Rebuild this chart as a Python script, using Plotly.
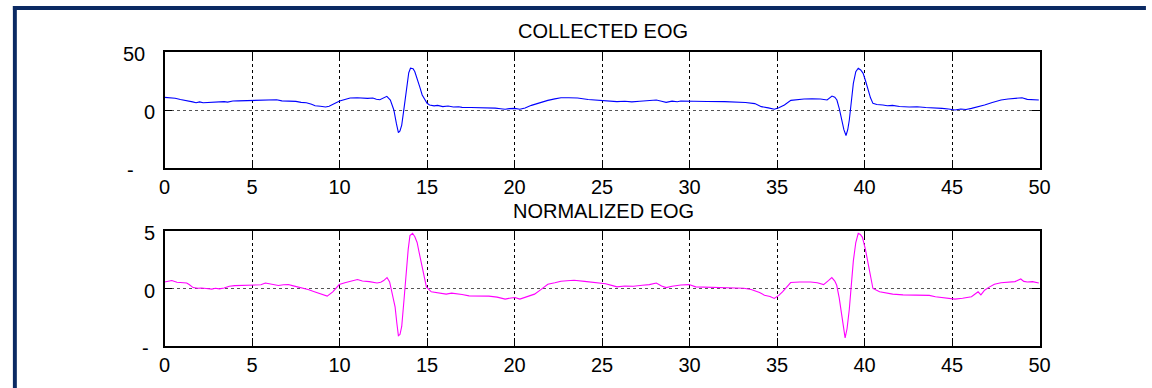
import plotly.graph_objects as go

# ---------------- data ----------------
collected_t = [0.0, 0.3, 0.6, 0.9, 1.1, 1.4, 1.6, 1.8, 2.0, 2.2, 2.5, 2.8, 3.1, 3.4, 3.6, 3.9, 4.2, 4.5, 4.9,
               5.2, 5.5, 5.8, 6.1, 6.4, 6.7, 6.9, 7.2, 7.5, 7.8, 8.1, 8.4, 8.6, 8.9, 9.2, 9.4, 9.6, 9.8, 10.0,
               10.3, 10.6, 11.0, 11.3, 11.6, 11.9, 12.1, 12.3, 12.5, 12.7, 12.9, 13.1, 13.25, 13.36, 13.45,
               13.55, 13.65, 13.75, 13.85, 13.95, 14.05, 14.2, 14.3, 14.45, 14.58, 14.72, 14.86, 15.0, 15.14,
               15.4, 15.6, 15.9, 16.2, 16.5, 16.8, 17.0, 17.5, 18.0, 18.5, 18.9, 19.2, 19.46, 19.7, 20.0, 20.3,
               20.6, 20.96, 21.3, 21.6, 21.9, 22.3, 22.65, 23.1, 23.6, 24.2, 24.9, 25.3, 25.6, 25.85, 26.3,
               26.7, 27.16, 27.6, 28.1, 28.4, 28.66, 29.0, 29.3, 29.5, 29.79, 30.16, 31.0, 32.0, 32.79, 33.2,
               33.73, 34.1, 34.5, 34.85, 35.1, 35.42, 35.79, 36.1, 36.54, 37.0, 37.48, 37.86, 38.0, 38.14,
               38.3, 38.42, 38.56, 38.7, 38.82, 38.94, 39.04, 39.13, 39.25, 39.36, 39.5, 39.64, 39.78, 39.92,
               40.06, 40.2, 40.34, 40.48, 40.7, 41.05, 41.3, 41.6, 42.0, 42.55, 43.0, 43.5, 44.0, 44.43, 44.8,
               45.17, 45.5, 45.8, 46.11, 46.5, 46.86, 47.3, 47.8, 48.2, 48.74, 49.0, 49.3, 49.96]
collected_v = [10.9, 10.8, 10.2, 9.0, 8.6, 8.0, 7.0, 6.3, 7.0, 6.2, 6.5, 6.4, 6.6, 7.2, 6.8, 7.7, 7.9, 8.0, 8.3,
               8.0, 8.4, 8.6, 8.2, 8.8, 7.9, 7.7, 8.0, 7.4, 6.6, 6.2, 5.0, 3.7, 3.2, 2.6, 3.3, 4.9, 6.5, 7.7,
               9.0, 10.3, 10.5, 10.2, 10.0, 10.4, 9.3, 8.9, 10.2, 11.8, 8.6, 0.0, -12.0, -19.5, -18.0,
               -13.0, -2.0, 8.6, 22.0, 32.0, 36.0, 35.5, 33.0, 27.0, 20.0, 13.0, 9.2, 5.8, 4.3,
               3.6, 4.0, 2.9, 3.4, 2.6, 2.8, 2.3, 2.2, 2.1, 2.0, 1.6, 1.1, 0.6, 1.2, 1.4, 0.6,
               1.8, 4.0, 5.8, 7.3, 8.3, 9.6, 10.6, 10.5, 10.3, 9.0, 8.3, 8.2, 7.3, 7.2, 7.6,
               7.0, 7.5, 7.8, 8.6, 7.5, 6.6, 7.6, 7.1, 7.8, 7.7, 7.2, 7.3, 7.2, 6.9, 6.5,
               5.5, 2.9, 1.8, 0.6, 2.0, 4.3, 8.3, 9.0, 9.5, 9.6, 9.5, 8.6, 10.5, 12.0,
               11.0, 8.6, 1.0, -8.6, -17.0, -22.0, -17.0, -8.6, 8.0, 23.0, 33.0, 36.0, 34.5, 31.6,
               25.0, 17.2, 10.5, 5.7, 4.8, 4.3, 3.6, 4.0, 3.0, 2.6, 2.8, 2.1, 1.9, 1.4, 0.9,
               0.0, 0.9, 0.4, 1.4, 2.6, 4.3, 6.5, 8.6, 9.5, 10.6, 10.5, 9.2, 8.6]

normalized_t = [0.0, 0.2, 0.41, 0.7, 1.0, 1.26, 1.4, 1.63, 1.9, 2.1, 2.38, 2.7, 2.9, 3.13, 3.4, 3.7, 4.0, 4.4,
                4.94, 5.3, 5.5, 5.76, 6.1, 6.5, 6.8, 7.07, 7.3, 7.64, 7.9, 8.2, 8.6, 9.0, 9.29, 9.61, 9.98,
                10.3, 10.64, 11.02, 11.3, 11.7, 12.14, 12.35, 12.52, 12.71, 12.86, 12.93, 13.05, 13.17, 13.27,
                13.36, 13.45, 13.55, 13.68, 13.8, 13.92, 14.02, 14.17, 14.3, 14.43, 14.55, 14.68, 14.82,
                14.96, 15.24, 15.6, 16.09, 16.4, 16.65, 17.0, 17.4, 18.0, 18.53, 19.0, 19.46, 19.8, 20.02,
                20.3, 20.7, 21.14, 21.5, 21.9, 22.3, 22.65, 23.0, 23.4, 24.0, 24.7, 25.2, 25.6, 25.85, 26.3,
                26.79, 27.3, 27.7, 28.1, 28.4, 28.66, 29.0, 29.5, 29.97, 30.35, 31.0, 32.0, 32.77, 33.1,
                33.52, 34.0, 34.28, 34.6, 34.84, 35.1, 35.31, 35.55, 35.78, 36.3, 36.91, 37.3, 37.66, 37.95,
                38.13, 38.3, 38.41, 38.55, 38.66, 38.78, 38.89, 39.0, 39.13, 39.25, 39.36, 39.5, 39.64, 39.76,
                39.88, 40.05, 40.2, 40.34, 40.48, 40.86, 41.2, 41.61, 42.2, 42.8, 43.3, 43.7, 44.05, 44.5,
                44.8, 45.17, 45.6, 46.11, 46.3, 46.49, 46.65, 46.86, 47.1, 47.42, 47.8, 48.18, 48.6, 48.93,
                49.1, 49.3, 49.6, 49.96]
normalized_v = [0.57, 0.6, 0.69, 0.55, 0.5, 0.48, 0.35, 0.08, 0.02, 0.04, 0.0, -0.05, 0.02, -0.03, 0.05, 0.2,
                0.25, 0.27, 0.28, 0.35, 0.32, 0.48, 0.38, 0.26, 0.32, 0.34, 0.25, 0.14, 0.05, -0.09, -0.3,
                -0.5, -0.66, -0.29, 0.34, 0.5, 0.63, 0.78, 0.65, 0.6, 0.48, 0.55, 0.69, 0.95, 0.57, 0.14,
                -0.6, -1.59, -3.0, -4.1, -4.0, -3.3, -1.0, 1.58, 3.4, 4.6, 4.8, 4.5, 4.0, 3.1, 2.15, 1.1,
                0.14, -0.29, -0.38, -0.49, -0.40, -0.43, -0.52, -0.64, -0.64, -0.66, -0.75, -0.92, -0.82,
                -0.78, -0.92, -0.72, -0.49, -0.1, 0.37, 0.5, 0.63, 0.68, 0.72, 0.62, 0.52, 0.42, 0.25, 0.14,
                0.22, 0.2, 0.28, 0.34, 0.48, 0.22, 0.08, 0.2, 0.3, 0.34, 0.14, 0.12, 0.1, 0.08, 0.02, -0.09,
                -0.35, -0.58, -0.7, -0.86, -0.6, -0.29, 0.15, 0.52, 0.56, 0.57, 0.5, 0.34, 0.7, 0.95, 0.65,
                0.28, -0.8, -1.87, -3.3, -4.3, -3.5, -1.8, 0.4, 2.4, 4.0, 4.8, 4.7, 4.45, 3.4, 2.15, 1.0,
                0.0, -0.29, -0.4, -0.49, -0.55, -0.55, -0.58, -0.6, -0.72, -0.8, -0.82, -0.92, -0.85, -0.72,
                -0.5, -0.29, -0.55, -0.15, 0.1, 0.37, 0.5, 0.57, 0.6, 0.83, 0.62, 0.57, 0.6, 0.48]

titles = ["COLLECTED EOG", "NORMALIZED EOG"]
x_tick_vals = [0, 5, 10, 15, 20, 25, 30, 35, 40, 45, 50]
x_tick_text = ["0", "5", "10", "15", "20", "25", "30", "35", "40", "45", "50"]
top_y_tick_vals = [50, 0, -50]
top_y_tick_text = ["50", "0", "-"]
bottom_y_tick_vals = [5, 0, -5]
bottom_y_tick_text = ["5", "0", "-"]

# ---------------- layout geometry (pixels) ----------------
W, H = 1152, 388
FONT = "Liberation Sans, Arial, sans-serif"


def px_x(p):
    return p / W


def px_y(p):
    return 1 - p / H


fig = go.Figure()
fig.add_trace(go.Scatter(x=collected_t, y=collected_v, mode="lines",
                         line=dict(color="#0000ff", width=1.1), xaxis="x", yaxis="y", showlegend=False))
fig.add_trace(go.Scatter(x=normalized_t, y=normalized_v, mode="lines",
                         line=dict(color="#ff00ff", width=1.1), xaxis="x2", yaxis="y2", showlegend=False))

xaxis_common = dict(
    domain=[px_x(161), px_x(1049)], range=[0, 50], tickmode="array",
    tickvals=x_tick_vals, ticktext=x_tick_text,
    showgrid=True, gridcolor="#000000", griddash="dot", gridwidth=1,
    showline=True, linecolor="#000000", linewidth=1.5, mirror="ticks",
    ticks="inside", ticklen=8, tickcolor="#000000",
    zeroline=False, tickfont=dict(family=FONT, size=20, color="#000000"),
    ticklabelstandoff=0,
)
yaxis_common = dict(
    tickmode="array", showticklabels=False,
    showgrid=True, gridcolor="#555555", griddash="dot", gridwidth=1,
    showline=True, linecolor="#000000", linewidth=1.5, mirror="ticks",
    ticks="inside", ticklen=8, tickcolor="#000000", zeroline=False,
)

fig.update_layout(
    width=W, height=H,
    margin=dict(l=0, r=0, t=0, b=0),
    paper_bgcolor="#ffffff", plot_bgcolor="#ffffff",
    xaxis=dict(**xaxis_common, anchor="y"),
    xaxis2=dict(**xaxis_common, anchor="y2"),
    yaxis=dict(**yaxis_common, domain=[px_y(168), px_y(52)], range=[-50, 50],
               tickvals=top_y_tick_vals, anchor="x"),
    yaxis2=dict(**yaxis_common, domain=[px_y(346), px_y(231)], range=[-5, 5],
                tickvals=bottom_y_tick_vals, anchor="x2"),
)

# y tick labels (placed as in the reference)
top_label_x = [130, 146, 126]
bottom_label_x = [146, 146, 142]
for vals, texts, xs, yref in [(top_y_tick_vals, top_y_tick_text, top_label_x, "y"),
                              (bottom_y_tick_vals, bottom_y_tick_text, bottom_label_x, "y2")]:
    for v, t, xp in zip(vals, texts, xs):
        fig.add_annotation(text=t, x=px_x(xp), xref="paper", y=v, yref=yref,
                           xanchor="center", yanchor="middle", yshift=-2, showarrow=False,
                           font=dict(family=FONT, size=20, color="#000000"))

# subplot titles
for title, ypx in zip(titles, [31, 211]):
    fig.add_annotation(text=title, x=px_x(606), xref="paper", y=px_y(ypx), yref="paper",
                       xanchor="center", yanchor="middle", showarrow=False,
                       font=dict(family=FONT, size=20, color="#000000"))

# dark frame (left and top edges visible)
frame_color = "#0b2a63"
fig.add_shape(type="rect", xref="paper", yref="paper", x0=px_x(7), x1=px_x(11), y0=px_y(H + 5), y1=px_y(6),
              fillcolor=frame_color, line=dict(width=0), layer="above")
fig.add_shape(type="rect", xref="paper", yref="paper", x0=px_x(7), x1=px_x(W + 5), y0=px_y(10), y1=px_y(6),
              fillcolor=frame_color, line=dict(width=0), layer="above")

fig.write_html("out.html", config=dict(displayModeBar=False),
               post_script="document.body.style.margin='0';document.body.style.overflow='hidden';")
